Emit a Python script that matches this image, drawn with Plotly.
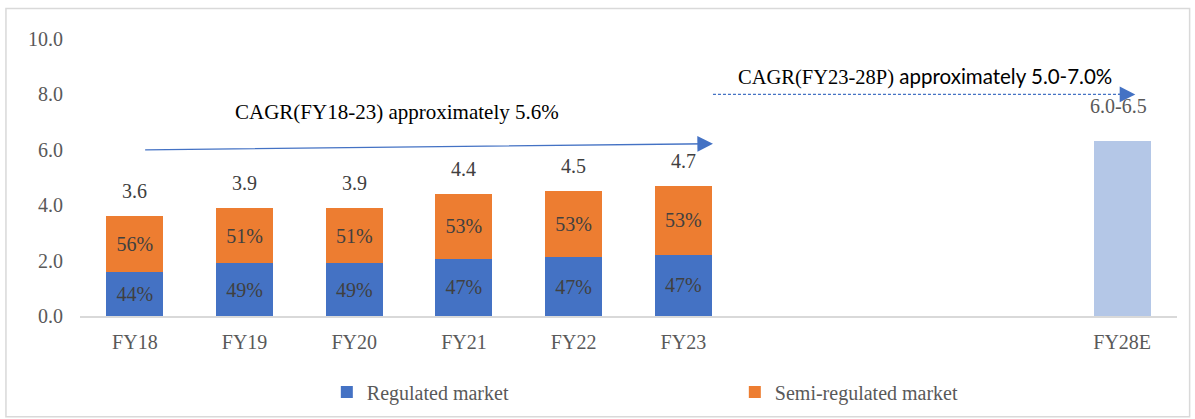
import plotly.graph_objects as go

categories = ["FY18", "FY19", "FY20", "FY21", "FY22", "FY23", " ", "  ", "   ", "FY28E"]
totals = [3.6, 3.9, 3.9, 4.4, 4.5, 4.7, None, None, None, None]
regulated_share = [44, 49, 49, 47, 47, 47, None, None, None, None]
semi_share = [56, 51, 51, 53, 53, 53, None, None, None, None]
forecast = [None, None, None, None, None, None, None, None, None, 6.3]
forecast_label = "6.0-6.5"
total_labels = ["3.6", "3.9", "3.9", "4.4", "4.5", "4.7"]

regulated_vals = [t * r / 100 if t is not None else None for t, r in zip(totals, regulated_share)]
semi_vals = [t * s / 100 if t is not None else None for t, s in zip(totals, semi_share)]

SERIF = "Liberation Serif, Times New Roman, serif"
GREY = "#595959"
DARK = "#404040"

fig = go.Figure()
fig.add_trace(go.Bar(
    x=categories, y=regulated_vals, name="Regulated market",
    marker=dict(color="#4472C4", line=dict(width=0)),
    text=[f"{v}%" if v is not None else "" for v in regulated_share],
    textposition="inside", insidetextanchor="middle", textangle=0,
    constraintext="none",
    textfont=dict(family=SERIF, size=20, color=DARK),
    hoverinfo="skip",
))
fig.add_trace(go.Bar(
    x=categories, y=semi_vals, name="Semi-regulated market",
    marker=dict(color="#ED7D31", line=dict(width=0)),
    text=[f"{v}%" if v is not None else "" for v in semi_share],
    textposition="inside", insidetextanchor="middle", textangle=0,
    constraintext="none",
    textfont=dict(family=SERIF, size=20, color=DARK),
    hoverinfo="skip",
))
fig.add_trace(go.Bar(
    x=categories, y=forecast, name="FY28E", showlegend=False,
    marker=dict(color="#B4C7E7", line=dict(width=0)),
    hoverinfo="skip",
))

annotations = []
for c, t, lab in zip(categories, totals, total_labels):
    annotations.append(dict(
        x=c, y=t, xref="x", yref="y", text=lab, showarrow=False,
        yanchor="bottom", yshift=12,
        font=dict(family=SERIF, size=20, color=DARK),
    ))
annotations.append(dict(
    x="FY28E", y=forecast[-1], xref="x", yref="y", text=forecast_label,
    showarrow=False, yanchor="bottom", yshift=22, xshift=-4,
    font=dict(family=SERIF, size=20, color=GREY),
))
annotations.append(dict(
    x=2.39, y=7.38, xref="x", yref="y",
    text="CAGR(FY18-23) approximately 5.6%", showarrow=False,
    font=dict(family=SERIF, size=21, color="#000000"),
))
annotations.append(dict(
    x=7.2, y=8.64, xref="x", yref="y",
    text="CAGR(FY23-28P)<span style='font-family:Lato, Carlito, sans-serif'> approximately 5.0-7.0%</span>",
    showarrow=False,
    font=dict(family=SERIF, size=20.5, color="#000000"),
))
# solid arrow FY18-FY23
annotations.append(dict(
    x=5.27, y=6.22, ax=0.08, ay=6.0, xref="x", yref="y", axref="x", ayref="y",
    text="", showarrow=True, arrowhead=2, arrowsize=2.4, arrowwidth=1.3,
    arrowcolor="#4472C4",
))
# dashed arrow FY23-FY28
fig.add_shape(type="line", x0=5.27, x1=9.0, y0=8.0, y1=8.0, xref="x", yref="y",
              line=dict(color="#4472C4", width=1.2, dash="3px,2px"))
annotations.append(dict(
    x=9.12, y=8.0, ax=8.95, ay=8.0, xref="x", yref="y", axref="x", ayref="y",
    text="", showarrow=True, arrowhead=2, arrowsize=2.4, arrowwidth=1.3,
    arrowcolor="#4472C4",
))

# outer border
fig.add_shape(type="rect", xref="paper", yref="paper",
              x0=-0.0675, x1=1.0115, y0=-0.364, y1=1.11,
              line=dict(color="#D9D9D9", width=1.5), fillcolor="rgba(0,0,0,0)",
              layer="below")

fig.update_layout(
    width=1195, height=419,
    margin=dict(l=80, r=18, t=38.5, b=103, autoexpand=False),
    paper_bgcolor="white", plot_bgcolor="white",
    barmode="stack", bargap=0.48,
    font=dict(family=SERIF, size=20, color=GREY),
    xaxis=dict(
        categoryorder="array", categoryarray=categories,
        range=[-0.5, 9.5], automargin=False,
        showline=True, linecolor="#D9D9D9", linewidth=1.5,
        ticks="", showgrid=False, zeroline=False,
        ticklabelstandoff=7,
        tickfont=dict(family=SERIF, size=20, color=GREY),
    ),
    yaxis=dict(
        range=[0, 10], tickvals=[0, 2, 4, 6, 8, 10],
        ticktext=["0.0", "2.0", "4.0", "6.0", "8.0", "10.0"],
        showgrid=False, zeroline=False, showline=False, ticks="",
        ticklabelstandoff=16, automargin=False,
        tickfont=dict(family=SERIF, size=20, color=GREY),
    ),
    legend=dict(
        orientation="h", x=0.225, xanchor="left",
        yref="container", y=0.0644, yanchor="middle",
        entrywidth=363, entrywidthmode="pixels",
        font=dict(family=SERIF, size=20, color=GREY),
        itemwidth=30, traceorder="normal",
    ),
    annotations=annotations,
    showlegend=True,
)

fig.write_html("out.html", config={"displayModeBar": False},
               post_script="document.body.style.margin='0';document.body.style.overflow='hidden';")
